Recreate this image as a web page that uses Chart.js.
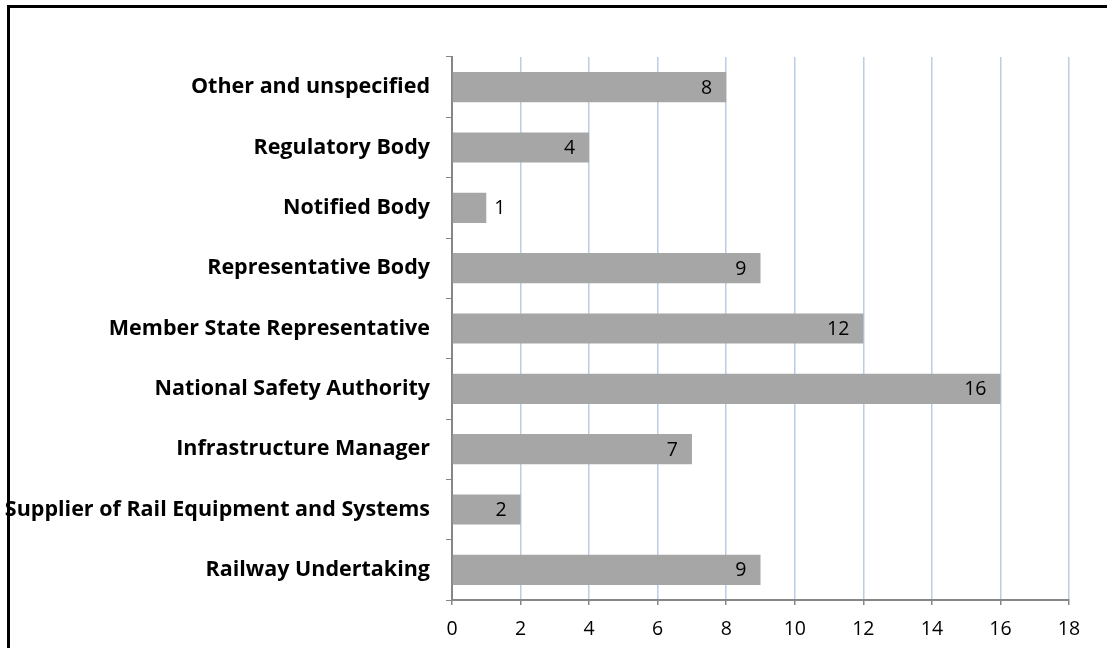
<!DOCTYPE html>
<html>
<head>
<meta charset="utf-8">
<script src="https://cdn.jsdelivr.net/npm/chart.js@4"></script>
<style>
  html, body { margin: 0; padding: 0; background: #fff; }
  #wrap { position: relative; width: 1107px; height: 648px; overflow: hidden; }
  #frame { position: absolute; left: 7px; top: 5px; width: 1200px; height: 700px;
           border-top: 3px solid #000; border-left: 3px solid #000; }
  canvas { position: absolute; left: 0; top: 0; }
</style>
</head>
<body>
<div id="wrap">
  <div id="frame"></div>
  <canvas id="chart" width="1107" height="648"></canvas>
</div>
<script>
// カテゴリと値（上から順）
const categories = [
  'Other and unspecified',
  'Regulatory Body',
  'Notified Body',
  'Representative Body',
  'Member State Representative',
  'National Safety Authority',
  'Infrastructure Manager',
  'Supplier of Rail Equipment and Systems',
  'Railway Undertaking'
];
const counts = [8, 4, 1, 9, 12, 16, 7, 2, 9];
const xTicks = [0, 2, 4, 6, 8, 10, 12, 14, 16, 18];

const FONT = '"Open Sans", Lato, sans-serif';

// バーの端に値を描くプラグイン
const valueLabels = {
  id: 'valueLabels',
  afterDatasetsDraw(chart) {
    const ctx = chart.ctx;
    const meta = chart.getDatasetMeta(0);
    ctx.save();
    ctx.font = '19.5px ' + FONT;
    ctx.fillStyle = '#000';
    ctx.textBaseline = 'middle';
    meta.data.forEach((bar, i) => {
      const txt = String(counts[i]);
      const w = ctx.measureText(txt).width;
      const barW = bar.x - bar.base;
      if (barW > w + 28) {
        ctx.textAlign = 'right';
        ctx.fillText(txt, bar.x - 14, bar.y + 1);
      } else {
        ctx.textAlign = 'left';
        ctx.fillText(txt, bar.x + 8, bar.y + 1);
      }
    });
    ctx.restore();
  }
};

new Chart(document.getElementById('chart'), {
  type: 'bar',
  data: {
    labels: categories,
    datasets: [{
      data: counts,
      backgroundColor: '#a6a6a6',
      borderWidth: 0,
      barPercentage: 0.5,
      categoryPercentage: 1.0
    }]
  },
  options: {
    indexAxis: 'y',
    responsive: false,
    animation: false,
    layout: { padding: { left: 0, right: 38, top: 57, bottom: 0 } },
    plugins: { legend: { display: false }, tooltip: { enabled: false } },
    scales: {
      x: {
        min: 0,
        max: 18,
        afterBuildTicks: (scale) => { scale.ticks = xTicks.map(v => ({ value: v })); },
        afterFit: (scale) => { scale.height = 48; },
        grid: { color: '#b9cde5', lineWidth: 1.5, tickColor: '#868686', tickLength: 5 },
        border: { color: '#868686', width: 2 },
        ticks: { color: '#000', font: { family: FONT, size: 19.5 }, padding: 13 }
      },
      y: {
        afterFit: (scale) => { scale.width = 452; },
        grid: { drawOnChartArea: false, offset: true, color: '#868686', tickLength: 6 },
        border: { color: '#868686', width: 2 },
        ticks: { color: '#000', font: { family: FONT, size: 21.5, weight: 'bold' }, padding: 16 }
      }
    }
  },
  plugins: [valueLabels]
});
</script>
</body>
</html>
